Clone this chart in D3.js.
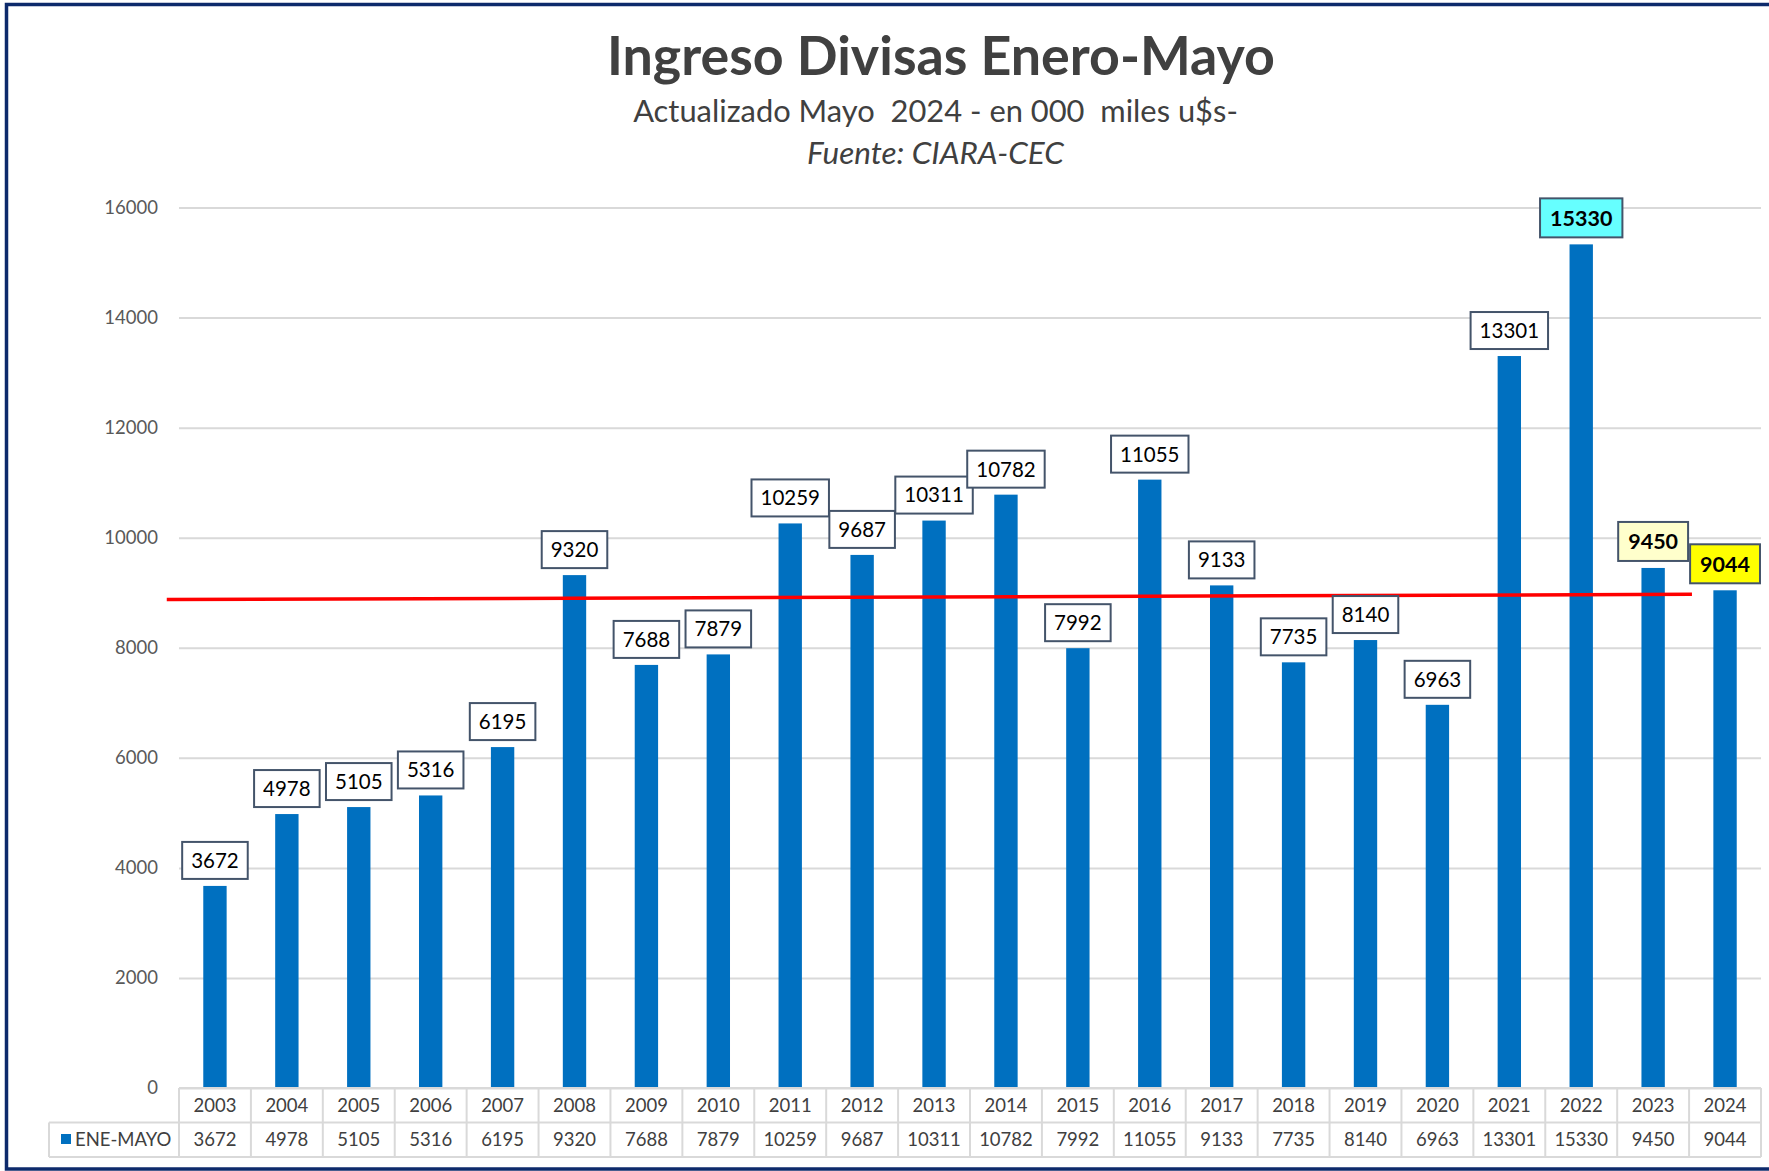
<!DOCTYPE html>
<html>
<head>
<meta charset="utf-8">
<script src="https://cdn.jsdelivr.net/npm/d3@7"></script>
<style>
  body { margin: 0; background: #fff; }
  svg { display: block; }
</style>
</head>
<body>
<div id="chart"></div>
<script>
var years = ["2003", "2004", "2005", "2006", "2007", "2008", "2009", "2010", "2011", "2012", "2013",
    "2014", "2015", "2016", "2017", "2018", "2019", "2020", "2021", "2022", "2023", "2024"];
var values = [3672, 4978, 5105, 5316, 6195, 9320, 7688, 7879, 10259, 9687, 10311,
    10782, 7992, 11055, 9133, 7735, 8140, 6963, 13301, 15330, 9450, 9044];
var yTicks = [0, 2000, 4000, 6000, 8000, 10000, 12000, 14000, 16000];
var seriesName = "ENE-MAYO";
// red reference line, ends given as (category position, value)
var refLine = [{at: -0.17, value: 8875}, {at: 21.04, value: 8970}];

var highlightFill = {"2022": "#66FFFF", "2023": "#FFFFCC", "2024": "#FFFF00"};

var W = 1769, H = 1171;
var left = 179, right = 1761, zeroY = 1088, topY = 207.5;
var rowH = 34.5;
var font = "Lato, 'Open Sans', sans-serif";

var svg = d3.select("#chart").append("svg").attr("width", W).attr("height", H);
svg.append("rect").attr("width", W).attr("height", H).style("fill", "#fff");

var x = d3.scaleBand().domain(years).range([left, right]);
var xi = d3.scaleLinear().domain([0, years.length]).range([left, right]);
var y = d3.scaleLinear().domain([0, 16000]).range([zeroY, topY]);
var bw = x.bandwidth() * 0.325;

function fitWidth(t, target) {
    var w = t.node().getComputedTextLength();
    var fs = parseFloat(t.attr("font-size"));
    t.attr("font-size", fs * target / w);
}

// titles
var title = svg.append("text").text("Ingreso Divisas Enero-Mayo")
    .attr("x", 941).attr("y", 75).attr("text-anchor", "middle")
    .attr("font-family", font).attr("font-weight", "bold").attr("font-size", 50)
    .style("fill", "#404040");
fitWidth(title, 668);

var sub = svg.append("text").text("Actualizado Mayo  2024 - en 000  miles u$s-")
    .attr("x", 935.5).attr("y", 122).attr("text-anchor", "middle")
    .attr("font-family", font).attr("font-size", 28)
    .style("white-space", "pre").style("fill", "#404040");
fitWidth(sub, 605);

var src = svg.append("text").text("Fuente: CIARA-CEC")
    .attr("x", 935.5).attr("y", 164).attr("text-anchor", "middle")
    .attr("font-family", font).attr("font-style", "italic").attr("font-size", 28)
    .style("fill", "#404040");
fitWidth(src, 257);

// y axis + gridlines
var yAxis = svg.append("g").attr("transform", "translate(" + left + ",0)")
    .call(d3.axisLeft(y).tickValues(yTicks).tickFormat(d3.format("d"))
        .tickSize(-(right - left)).tickPadding(21));
yAxis.select(".domain").remove();
yAxis.selectAll(".tick line").style("stroke", "#d9d9d9").style("stroke-width", 2);
yAxis.selectAll(".tick text").attr("font-family", font).attr("font-size", 18.5)
    .style("fill", "#595959");

// bars
svg.append("g").selectAll("rect").data(values).enter().append("rect")
    .attr("x", function (d, i) { return x(years[i]) + (x.bandwidth() - bw) / 2; })
    .attr("y", function (d) { return y(d); })
    .attr("width", bw)
    .attr("height", function (d) { return zeroY - y(d); })
    .style("fill", "#0070C0");

// reference line
svg.append("path").datum(refLine)
    .attr("d", d3.line().x(function (d) { return xi(d.at); }).y(function (d) { return y(d.value); }))
    .style("stroke", "#FF0000").style("stroke-width", 3.5).style("fill", "none");

// data labels
var lab = svg.append("g").selectAll("g").data(values).enter().append("g")
    .attr("transform", function (d, i) {
        return "translate(" + (x(years[i]) + x.bandwidth() / 2) + "," + (y(d) - 7) + ")";
    });
lab.each(function (d, i) {
    var g = d3.select(this);
    var hl = highlightFill[years[i]];
    var h = hl ? 39 : 37;
    var t = g.append("text").text(d)
        .attr("text-anchor", "middle").attr("y", -h / 2).attr("dy", "0.36em")
        .attr("font-family", font).attr("font-size", hl ? 21.5 : 20.5)
        .attr("font-weight", hl ? "bold" : "normal")
        .style("fill", "#000");
    var w = t.node().getComputedTextLength() + (hl ? 20 : 18);
    g.insert("rect", "text")
        .attr("x", -w / 2).attr("y", -h).attr("width", w).attr("height", h)
        .style("fill", hl || "#fff").style("stroke", "#44546A").style("stroke-width", 2);
});

// data table
var tbl = svg.append("g").style("stroke", "#d9d9d9").style("stroke-width", 2);
tbl.append("line").attr("x1", left).attr("x2", right).attr("y1", zeroY).attr("y2", zeroY);
tbl.append("line").attr("x1", 49).attr("x2", right).attr("y1", zeroY + rowH).attr("y2", zeroY + rowH);
tbl.append("line").attr("x1", 49).attr("x2", right).attr("y1", zeroY + 2 * rowH).attr("y2", zeroY + 2 * rowH);
tbl.append("line").attr("x1", 49).attr("x2", 49).attr("y1", zeroY + rowH).attr("y2", zeroY + 2 * rowH);
tbl.selectAll(".col").data(years.concat(["end"])).enter().append("line")
    .attr("x1", function (d, i) { return xi(i); })
    .attr("x2", function (d, i) { return xi(i); })
    .attr("y1", zeroY).attr("y2", zeroY + 2 * rowH);

svg.append("g").selectAll("text").data(years).enter().append("text")
    .text(function (d) { return d; })
    .attr("x", function (d) { return x(d) + x.bandwidth() / 2; })
    .attr("y", zeroY + rowH / 2).attr("dy", "0.36em").attr("text-anchor", "middle")
    .attr("font-family", font).attr("font-size", 18.5).style("fill", "#404040");

svg.append("g").selectAll("text").data(values).enter().append("text")
    .text(function (d) { return d; })
    .attr("x", function (d, i) { return x(years[i]) + x.bandwidth() / 2; })
    .attr("y", zeroY + rowH * 1.5).attr("dy", "0.36em").attr("text-anchor", "middle")
    .attr("font-family", font).attr("font-size", 18.5).style("fill", "#404040");

svg.append("rect").attr("x", 61).attr("y", 1134).attr("width", 10).attr("height", 10)
    .style("fill", "#0070C0");
svg.append("text").text(seriesName)
    .attr("x", 75).attr("y", zeroY + rowH * 1.5).attr("dy", "0.36em")
    .attr("font-family", font).attr("font-size", 18.5).style("fill", "#404040");

// frame
svg.append("rect").attr("x", 6.5).attr("y", 4.5).attr("width", 1800).attr("height", 1164.5)
    .style("fill", "none").style("stroke", "#0D2A6B").style("stroke-width", 3.5);
</script>
</body>
</html>
